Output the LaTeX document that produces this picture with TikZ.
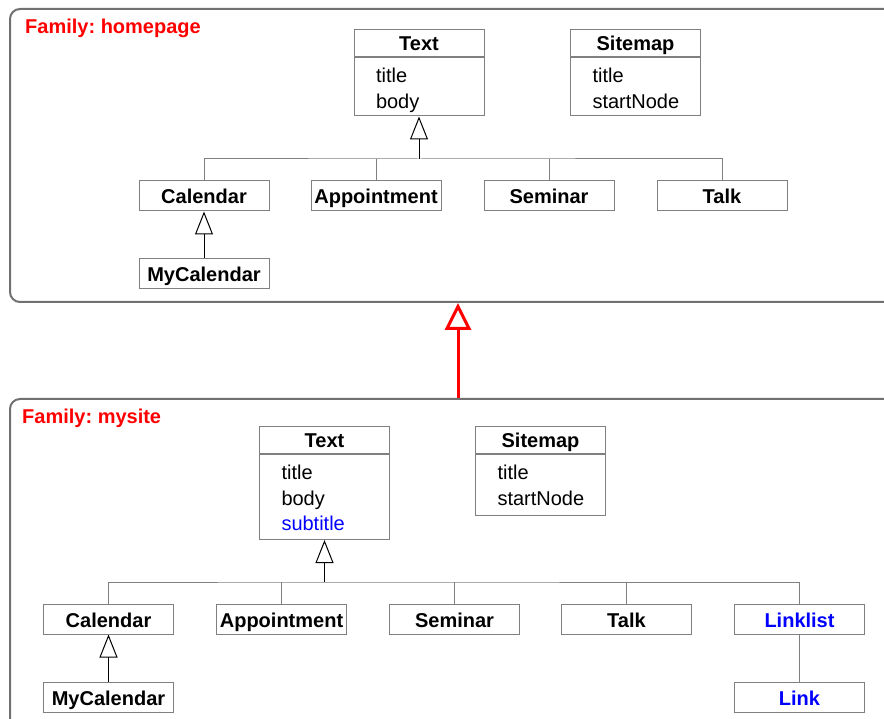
\documentclass[tikz,border=0pt]{standalone}
\usepackage{fontspec}
\setmainfont{Liberation Sans}
\usetikzlibrary{arrows.meta}
\definecolor{framegray}{HTML}{707070}
\definecolor{boxgray}{HTML}{808080}
\definecolor{addblue}{HTML}{0000FF}
% struts that fix the first baseline and the bottom margin of an attribute list
\newcommand{\firstattr}{\rule{0pt}{25pt}}
\newcommand{\lastattr}[1][9pt]{\rule[-#1]{0pt}{#1}}
\begin{document}
\frenchspacing
\begin{tikzpicture}[x=1pt,y=-1pt,
  every node/.style={font=\fontsize{20}{25.5}\selectfont},
  cls/.style={draw=boxgray, line width=1pt, minimum width=130pt, minimum height=30pt,
    inner sep=0pt, text height=16pt, text depth=0pt,
    font=\fontsize{20}{25.5}\selectfont\bfseries},
  hdr/.style={cls, minimum height=27pt, text height=15pt},
  attrs/.style={draw=boxgray, line width=1pt, minimum width=130pt, inner xsep=22pt,
    inner ysep=0pt, text width=86pt, align=left, anchor=north},
  frame/.style={draw=framegray, line width=2pt, rounded corners=10pt, anchor=north west,
    minimum width=950pt, inner sep=0pt},
  famlabel/.style={text=red, font=\fontsize{20}{24}\selectfont\bfseries, anchor=base west, inner sep=0pt},
  busline/.style={draw=boxgray, line width=1pt},
  inh/.style={draw=black, line width=1pt, -{Triangle[open, length=23pt, width=18pt, line width=1pt]}},
  refine/.style={draw=red, line width=3pt, -{Triangle[open, length=27pt, width=26pt, line width=3pt]}}
]
\useasboundingbox (0,0) rectangle (884,719);
\clip (0,0) rectangle (884,719);

% ---------- family: homepage ----------
\node[frame, minimum height=293pt] (famA) at (9,8) {};
\node[famlabel] (labA) at (25,33.5) {Family: homepage};

\node[hdr] (textA) at (419,43.5) {Text};
\node[attrs] (textAb) at (textA.south) {\firstattr title\\body\lastattr[7.5pt]};
\node[hdr] (siteA) at (635.5,43.5) {Sitemap};
\node[attrs] (siteAb) at (siteA.south) {\firstattr title\\startNode\lastattr[7.5pt]};

\node[cls] (calA) at (204,196) {Calendar};
\node[cls] (appA) at (376,196) {Appointment};
\node[cls] (semA) at (549,196) {Seminar};
\node[cls] (talkA) at (722,196) {Talk};
\node[cls] (mycalA) at (204,273.5) {MyCalendar};

\coordinate (busA) at (419,159);
\draw[busline] (calA.north) |- (busA) -| (talkA.north);
\draw[busline] (appA.north) -- (appA.north |- busA);
\draw[busline] (semA.north) -- (semA.north |- busA);
\draw[inh] (busA) -- (textAb.south);
\draw[inh] (mycalA.north) -- (calA.south);

% ---------- family: mysite ----------
\node[frame, minimum height=400pt] (famB) at (9,398) {};
\node[famlabel] (labB) at (22,423) {Family: mysite};

\node[hdr] (textB) at (324.5,440) {Text};
\node[attrs] (textBb) at (textB.south) {\firstattr title\\body\\\textcolor{addblue}{subtitle}\lastattr};
\node[hdr] (siteB) at (540.5,440) {Sitemap};
\node[attrs] (siteBb) at (siteB.south) {\firstattr title\\startNode\lastattr[10pt]};

\node[cls] (calB) at (108.5,619) {Calendar};
\node[cls] (appB) at (281.5,619) {Appointment};
\node[cls] (semB) at (454.5,619) {Seminar};
\node[cls] (talkB) at (626.5,619) {Talk};
\node[cls, text=addblue] (llB) at (799.5,619) {Linklist};
\node[cls] (mycalB) at (108.5,697) {MyCalendar};
\node[cls, text=addblue] (linkB) at (799.5,697) {Link};

\coordinate (busB) at (324.5,582);
\draw[busline] (calB.north) |- (busB) -| (llB.north);
\draw[busline] (appB.north) -- (appB.north |- busB);
\draw[busline] (semB.north) -- (semB.north |- busB);
\draw[busline] (talkB.north) -- (talkB.north |- busB);
\draw[inh] (busB) -- (textBb.south);
\draw[inh] (mycalB.north) -- (calB.south);
\draw[busline] (llB.south) -- (linkB.north);

% ---------- refinement between families ----------
\coordinate (refB) at (458,398);
\draw[refine] (refB) -- (refB |- famA.south);
\end{tikzpicture}
\end{document}
